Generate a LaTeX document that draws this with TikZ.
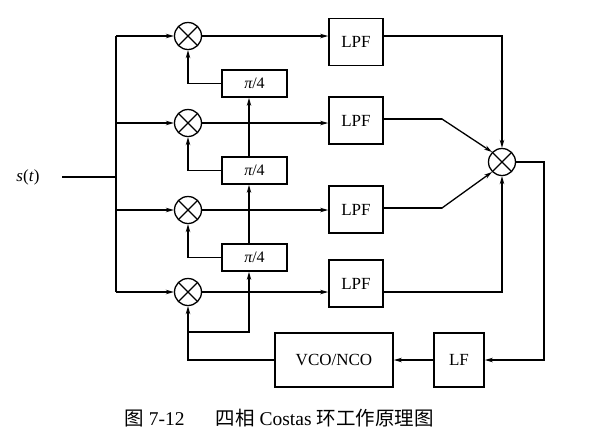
\documentclass[tikz,border=0pt]{standalone}
\usepackage{fontspec}
\setmainfont{Liberation Serif}
\newfontfamily\cjk{Noto Sans CJK SC}
\usetikzlibrary{arrows.meta}
\begin{document}
\begin{tikzpicture}[x=1pt,y=-1pt,line width=1.2pt,
  mult/.style={circle,draw,line width=1.3pt,minimum size=27pt,inner sep=0pt,
    path picture={\draw[line width=1.3pt] (path picture bounding box.north west) -- (path picture bounding box.south east)
      (path picture bounding box.north east) -- (path picture bounding box.south west);}},
  blk/.style={draw,line width=1.7pt,inner sep=0pt,font=\fontsize{17}{20}\selectfont},
  pbox/.style={blk,minimum width=65pt,minimum height=27pt,font=\fontsize{16}{18}\selectfont},
  lpf/.style={blk,minimum width=54pt,minimum height=47pt},
  arr/.style={-{Stealth[length=8pt,width=4.5pt]}}]
\useasboundingbox (0,0) rectangle (590,432);
% multipliers
\node[mult] (m1) at (188,36) {};
\node[mult] (m2) at (188,123) {};
\node[mult] (m3) at (188,210) {};
\node[mult] (m4) at (188,292) {};
\node[mult] (M) at (502,162) {};
% phase shifters
\node[pbox] (p1) at (254.5,83.5) {{\itshape π}/4};
\node[pbox] (p2) at (254.5,170.5) {{\itshape π}/4};
\node[pbox] (p3) at (254.5,257.5) {{\itshape π}/4};
% LPFs
\node[lpf] (L1) at (356,42) {LPF};
\node[lpf] (L2) at (356,120.5) {LPF};
\node[lpf] (L3) at (356,209.5) {LPF};
\node[lpf] (L4) at (356,283.5) {LPF};
% loop
\node[blk,minimum width=50pt,minimum height=54pt] (LF) at (459,360) {LF};
\node[blk,minimum width=118pt,minimum height=54pt] (VCO) at (334,360) {VCO/NCO};
% input
\node[font=\fontsize{17}{20}\selectfont] (st) at (28,177) {\textit{s}(\textit{t})};
\coordinate (sin) at (62,177);
\coordinate (btop) at (116,36);
\coordinate (bbot) at (116,292);
\draw (btop) -- (bbot);
\draw (sin) -- (sin -| btop);
\draw[arr] (btop) -- (m1.west);
\draw[arr] (m2.west -| btop) -- (m2.west);
\draw[arr] (m3.west -| btop) -- (m3.west);
\draw[arr] (bbot) -- (m4.west);
% multipliers to LPFs
\draw[arr] (m1.east) -- (m1.east -| L1.west);
\draw[arr] (m2.east) -- (m2.east -| L2.west);
\draw[arr] (m3.east) -- (m3.east -| L3.west);
\draw[arr] (m4.east) -- (m4.east -| L4.west);
% LPFs to combiner
\coordinate (k2) at (442,119);
\coordinate (k3) at (442,208);
\draw[arr] (L1.east |- m1.east) -| (M.north);
\draw[line cap=round] (L2.east |- k2) -- (k2);
\draw[arr,line width=1.3pt] (k2) -- (M.135);
\draw[line cap=round] (L3.east |- k3) -- (k3);
\draw[arr,line width=1.3pt] (k3) -- (M.225);
\draw[arr] (L4.east |- m4.east) -| (M.south);
% loop filter and oscillator
\coordinate (rr) at (544,162);
\draw[arr] (M.east) -- (rr) |- (LF.east);
\draw[arr] (LF.west) -- (VCO.east);
\draw[arr] (VCO.west) -| (m4.south);
\coordinate (br) at (188,332);
\draw[arr] (br) -| ([xshift=-5.5pt]p3.south);
\draw[arr] ([xshift=-5.5pt]p3.north) -- ([xshift=-5.5pt]p2.south);
\draw[arr] ([xshift=-5.5pt]p2.north) -- ([xshift=-5.5pt]p1.south);
\draw[arr] (p1.west) -| (m1.south);
\draw[arr] (p2.west) -| (m2.south);
\draw[arr] (p3.west) -| (m3.south);
% caption
\node (cap) at (279,418) {\fontsize{19.5}{21}\selectfont{\cjk 图}\hspace{0.25em}7-12\hspace{1.6em}{\cjk 四相}\hspace{0.25em}Costas\hspace{0.25em}{\cjk 环工作原理图}};
\end{tikzpicture}
\end{document}
